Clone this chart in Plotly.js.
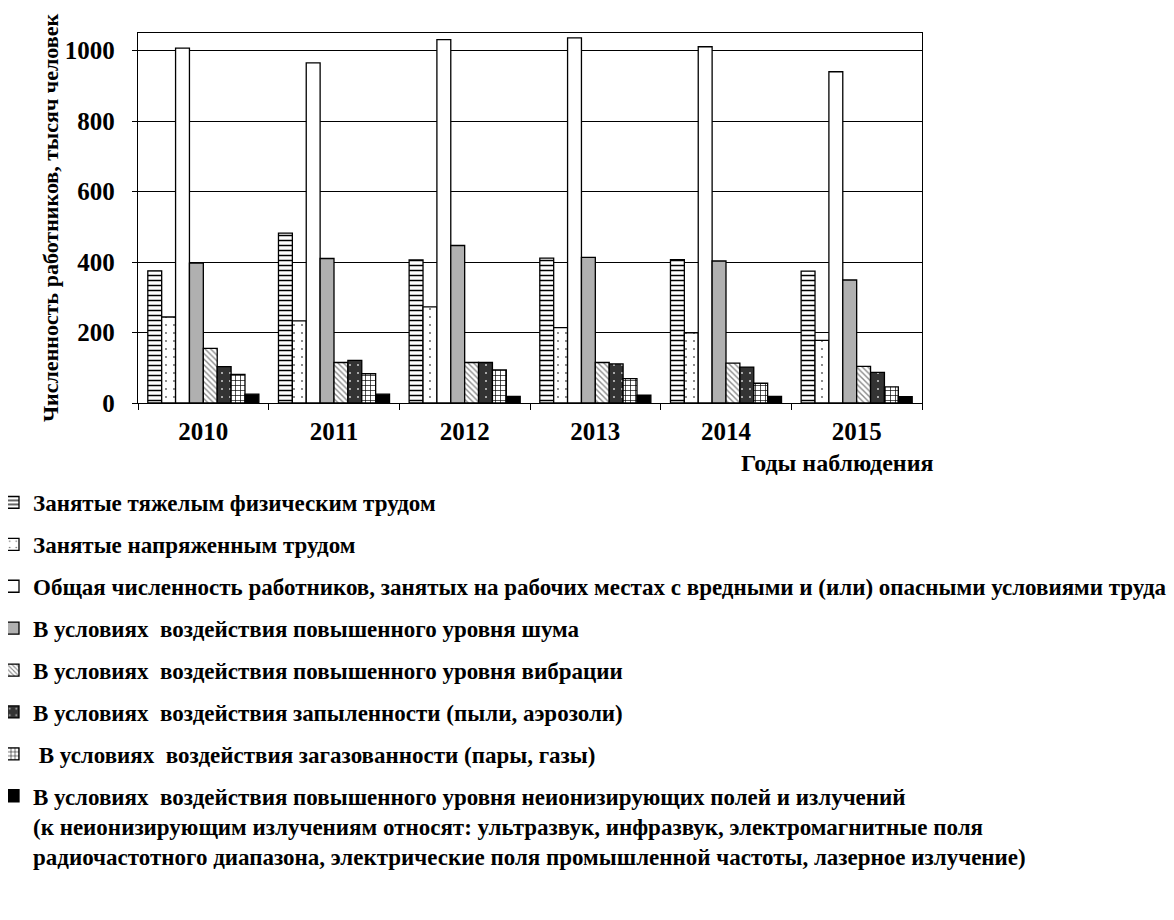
<!DOCTYPE html>
<html>
<head>
<meta charset="utf-8">
<script src="https://cdn.plot.ly/plotly-3.0.1.min.js"></script>
<style>html,body{margin:0;padding:0;background:#fff;}#chart{width:1174px;height:920px;}</style>
</head>
<body>
<div id="chart"></div>
<script>
const years = ["2010", "2011", "2012", "2013", "2014", "2015"];

const seriesNames = [
  "Занятые тяжелым физическим трудом",
  "Занятые напряженным трудом",
  "Общая численность работников, занятых на рабочих местах с вредными и (или) опасными условиями труда",
  "В условиях\u00a0 воздействия повышенного уровня шума",
  "В условиях\u00a0 воздействия повышенного уровня вибрации",
  "В условиях\u00a0 воздействия запыленности (пыли, аэрозоли)",
  "\u00a0В условиях\u00a0 воздействия загазованности (пары, газы)",
  "В условиях\u00a0 воздействия повышенного уровня неионизирующих полей и излучений<br>(к неионизирующим излучениям относят: ультразвук, инфразвук, электромагнитные поля<br>радиочастотного диапазона, электрические поля промышленной частоты, лазерное излучение)"
];

const heavyWork   = [375, 482, 406, 411, 407, 374];
const intenseWork = [244, 233, 273, 214, 199, 178];
const totalHarm   = [1007, 965, 1031, 1036, 1011, 940];
const noise       = [397, 410, 447, 413, 403, 349];
const vibration   = [155, 115, 115, 115, 113, 104];
const dust        = [103, 121, 115, 111, 102, 87];
const gas         = [81, 83, 94, 69, 56, 46];
const nonIonizing = [25, 25, 19, 22, 19, 18];

const seriesValues = [heavyWork, intenseWork, totalHarm, noise, vibration, dust, gas, nonIonizing];

const yTickVals = [0, 200, 400, 600, 800, 1000];
const yTickText = ["0", "200", "400", "600", "800", "1000"];

const styles = [
  {color: "#ffffff", pattern: {shape: "-", fgcolor: "#000000", bgcolor: "#ffffff", size: 5, solidity: 0.3}},
  {color: "#ffffff", pattern: {shape: ".", fgcolor: "#555555", bgcolor: "#ffffff", size: 8, solidity: 0.04}},
  {color: "#ffffff", pattern: {shape: ""}},
  {color: "#b0b0b0", pattern: {shape: ""}},
  {color: "#ffffff", pattern: {shape: "\\", fgcolor: "#8a8a8a", bgcolor: "#ffffff", size: 4, solidity: 0.35}},
  {color: "#333333", pattern: {shape: ".", fgcolor: "#cfcfcf", bgcolor: "#333333", size: 8, solidity: 0.05}},
  {color: "#ffffff", pattern: {shape: "+", fgcolor: "#000000", bgcolor: "#ffffff", size: 5, solidity: 0.25}},
  {color: "#000000", pattern: {shape: ""}}
];

const FONT = "'Liberation Serif', 'Times New Roman', serif";

const traces = seriesValues.map((vals, i) => ({
  type: "bar",
  x: years,
  y: vals,
  name: seriesNames[i],
  legendgroup: "g" + i,
  marker: {
    color: styles[i].color,
    pattern: styles[i].pattern,
    line: {color: "#000000", width: 1.3}
  },
  hoverinfo: "x+y+name"
}));

const layout = {
  width: 1174,
  height: 920,
  margin: {l: 138, r: 252, t: 33, b: 517, autoexpand: false},
  paper_bgcolor: "#ffffff",
  plot_bgcolor: "#ffffff",
  barmode: "group",
  bargap: 0.15,
  bargroupgap: 0,
  showlegend: true,
  font: {family: FONT, color: "#000000"},
  xaxis: {
    type: "category",
    showline: true, linecolor: "#000000", linewidth: 1.3, mirror: true,
    ticks: "outside", tickson: "boundaries", ticklen: 6, tickcolor: "#000000", tickwidth: 1.3,
    tickfont: {family: FONT, size: 25, weight: "bold", color: "#000000"},
    ticklabelstandoff: 6,
    showgrid: false,
    automargin: false,
    fixedrange: true
  },
  yaxis: {
    range: [0, 1050],
    tickvals: yTickVals,
    ticktext: yTickText,
    showline: true, linecolor: "#000000", linewidth: 1.3, mirror: true,
    ticks: "outside", ticklen: 17, tickcolor: "rgba(0,0,0,0)", tickwidth: 1,
    minor: {tickvals: yTickVals, ticks: "outside", ticklen: 5, tickcolor: "#000000", tickwidth: 1.3, showgrid: false},
    tickfont: {family: FONT, size: 25, weight: "bold", color: "#000000"},
    showgrid: true, gridcolor: "#000000", gridwidth: 1.3,
    zeroline: false,
    title: {text: "Численность работников, тысяч человек", font: {family: FONT, size: 22, weight: "bold", color: "#000000"}, standoff: 0},
    automargin: false,
    fixedrange: true
  },
  legend: {
    orientation: "v",
    x: -130 / 784,
    xanchor: "left",
    y: (403 - 481) / 370,
    yanchor: "top",
    traceorder: "grouped",
    tracegroupgap: 9,
    indentation: -15,
    valign: "top",
    font: {family: FONT, size: 23, weight: "bold", color: "#000000"},
    bgcolor: "rgba(0,0,0,0)",
    borderwidth: 0
  },
  annotations: [{
    text: "Годы наблюдения",
    xref: "paper", yref: "paper",
    x: (935 - 138) / 784, y: (403 - 463) / 370,
    xanchor: "right", yanchor: "middle",
    showarrow: false,
    font: {family: FONT, size: 24, weight: "bold", color: "#000000"}
  }]
};

Plotly.newPlot("chart", traces, layout, {displayModeBar: false, staticPlot: false});
</script>
</body>
</html>
